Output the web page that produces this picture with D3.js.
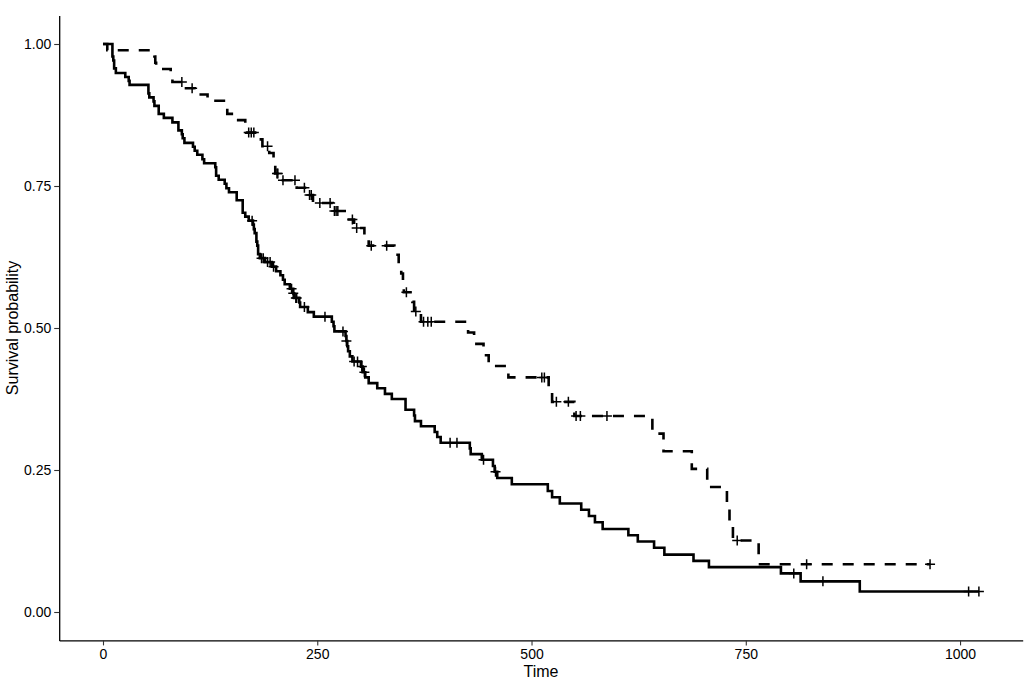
<!DOCTYPE html>
<html>
<head>
<meta charset="utf-8">
<script src="https://cdn.jsdelivr.net/npm/d3@7"></script>
<style>
  body { margin: 0; background: #fff; }
  svg text { font-family: "Liberation Sans", Arial, Helvetica, sans-serif; }
</style>
</head>
<body>
<div id="canvas"></div>
<script>
// ---- DATA ----------------------------------------------------------------------
// solid curve: event times and survival after each step
var maleTime = [0, 11, 12, 13, 15, 26, 30, 31, 53, 54,
    59, 60, 65, 71, 81, 88, 92, 93, 95, 105,
    107, 110, 116, 118, 131, 132, 135, 142, 144, 147,
    156, 163, 166, 170, 175, 176, 177, 179, 180, 181,
    183, 189, 197, 202, 207, 210, 212, 218, 222, 223,
    229, 230, 239, 246, 267, 269, 270, 283, 284, 285,
    286, 288, 291, 301, 303, 306, 310, 320, 329, 337,
    353, 363, 364, 371, 387, 390, 394, 428, 429, 442,
    455, 457, 460, 477, 519, 524, 533, 558, 567, 574,
    583, 613, 624, 643, 655, 689, 707, 791, 814, 883,
    1022];
var maleSurv = [1, .978, .971, .957, .949, .942, .935, .928, .913, .906,
    .899, .891, .877, .870, .862, .848, .841, .834, .826, .819,
    .812, .805, .797, .790, .783, .768, .761, .754, .746, .739,
    .725, .703, .696, .689, .682, .674, .667, .652, .645, .630,
    .623, .616, .608, .600, .593, .585, .577, .569, .561, .553,
    .545, .537, .528, .520, .511, .503, .494, .486, .477, .468,
    .459, .450, .441, .432, .422, .413, .403, .394, .384, .375,
    .356, .346, .336, .327, .317, .308, .298, .288, .278, .268,
    .257, .247, .236, .225, .213, .202, .191, .180, .169, .158,
    .146, .135, .124, .113, .101, .090, .079, .068, .054, .036,
    .036];
var maleCensor = [174, 185, 187, 192, 195, 199, 220, 222, 225, 226,
    235, 259, 280, 284, 293, 297, 302, 305, 405, 413,
    444, 458, 806, 840, 1010, 1022];

// dashed curve
var femaleTime = [0, 5, 60, 61, 62, 79, 81, 95, 107, 122,
    145, 153, 166, 167, 182, 186, 194, 199, 201, 208,
    226, 239, 245, 268, 285, 293, 305, 310, 340, 345,
    348, 350, 351, 361, 363, 371, 426, 433, 444, 450,
    473, 520, 524, 550, 641, 654, 687, 705, 728, 731,
    735, 765, 965];
var femaleSurv = [1, .989, .978, .967, .956, .944, .933, .922, .911, .900,
    .877, .866, .855, .844, .832, .820, .808, .796, .772, .760,
    .747, .734, .720, .706, .691, .676, .660, .645, .629, .612,
    .596, .579, .563, .546, .529, .511, .492, .472, .452, .433,
    .413, .391, .370, .345, .314, .283, .252, .220, .189, .157,
    .126, .084, .084];
var femaleCensor = [92, 104, 170, 173, 176, 192, 203, 204, 210, 224,
    235, 241, 243, 253, 265, 270, 272, 274, 291, 296,
    313, 331, 354, 365, 374, 379, 383, 512, 515, 529,
    543, 552, 557, 588, 740, 821, 965];

var xTicks = [0, 250, 500, 750, 1000];
var yTicks = [0, 0.25, 0.5, 0.75, 1];


// ---- CONVENTIONS ---------------------------------------------------------------
var outerWidth = 1025,
    outerHeight = 683;
var margin = {top: 15.6, right: 2.3, bottom: 42.6, left: 59.2};
var width = outerWidth - margin.left - margin.right,
    height = outerHeight - margin.top - margin.bottom;

var svg = d3.select('#canvas')
    .append('svg')
    .attr('width', outerWidth)
    .attr('height', outerHeight);

var plot = svg.append('g')
    .attr('transform', 'translate(' + margin.left + ',' + margin.top + ')');


// ---- SCALES --------------------------------------------------------------------
var scaleX = d3.scaleLinear()
    .domain([-51.1, 1073.1])
    .range([0, width]);

var scaleY = d3.scaleLinear()
    .domain([-0.05, 1.05])
    .range([height, 0]);


// ---- AXES ----------------------------------------------------------------------
var axisX = d3.axisBottom(scaleX)
    .tickValues(xTicks)
    .tickFormat(d3.format('d'))
    .tickSizeInner(5)
    .tickSizeOuter(0)
    .tickPadding(4);

var axisY = d3.axisLeft(scaleY)
    .tickValues(yTicks)
    .tickFormat(d3.format('.2f'))
    .tickSizeInner(5)
    .tickSizeOuter(0)
    .tickPadding(3);

var gx = plot.append('g').attr('class', 'axis axis-x')
    .attr('transform', 'translate(0,' + height + ')')
    .call(axisX);
var gy = plot.append('g').attr('class', 'axis axis-y')
    .call(axisY);

[gx, gy].forEach(function(g){
    g.select('.domain').attr('stroke', '#000').attr('stroke-width', 1.3);
    g.selectAll('.tick line').attr('stroke', '#333').attr('stroke-width', 1.1);
    g.selectAll('.tick text').attr('fill', '#000').style('font-size', '14px');
});

plot.append('text')
    .attr('x', width / 2)
    .attr('y', height + 37)
    .attr('text-anchor', 'middle')
    .style('font-size', '16px')
    .text('Time');

svg.append('text')
    .attr('transform', 'translate(18,' + (margin.top + height / 2) + ') rotate(-90)')
    .attr('text-anchor', 'middle')
    .style('font-size', '16px')
    .text('Survival probability');


// ---- GENERATORS ----------------------------------------------------------------
var lineGenerator = d3.line()
    .x(function(d){ return scaleX(d.t); })
    .y(function(d){ return scaleY(d.s); })
    .curve(d3.curveStepAfter);

function steps(times, surv){
    return times.map(function(t, i){ return {t: t, s: surv[i]}; });
}

function survAt(times, surv, t){
    var i = d3.bisectRight(times, t) - 1;
    return surv[Math.max(i, 0)];
}


// ---- DRAW ----------------------------------------------------------------------
function drawCurve(times, surv, censor, dash){
    plot.append('path')
        .datum(steps(times, surv))
        .attr('d', lineGenerator)
        .style('fill', 'none')
        .style('stroke', '#000')
        .style('stroke-width', '2.6px')
        .style('stroke-dasharray', dash ? '11,10' : null);

    plot.append('g').selectAll('.censor')
        .data(censor)
        .enter()
        .append('path')
        .attr('class', 'censor')
        .attr('d', function(t){
            var cx = scaleX(t), cy = scaleY(survAt(times, surv, t));
            return 'M' + (cx - 5) + ',' + cy + 'H' + (cx + 5) +
                'M' + cx + ',' + (cy - 5) + 'V' + (cy + 5);
        })
        .style('fill', 'none')
        .style('stroke', '#000')
        .style('stroke-width', '1.5px');
}

drawCurve(maleTime, maleSurv, maleCensor, false);
drawCurve(femaleTime, femaleSurv, femaleCensor, true);
</script>
</body>
</html>
